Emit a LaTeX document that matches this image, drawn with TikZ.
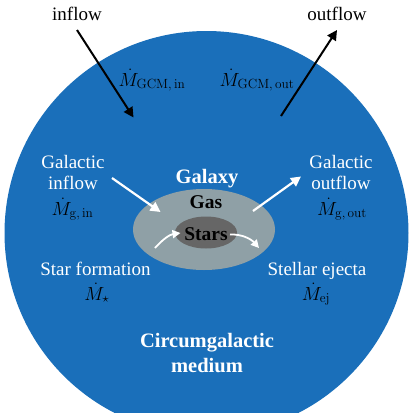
\RequirePackage{fix-cm}
\documentclass[tikz,border=0pt]{standalone}
\usepackage[no-math]{fontspec}
\setmainfont{Liberation Serif}
\usetikzlibrary{arrows.meta}
\usetikzlibrary{positioning}

\definecolor{cgmblue}{RGB}{26,111,186}
\definecolor{gasgrey}{RGB}{143,160,166}
\definecolor{stargrey}{RGB}{102,102,102}

\tikzset{
  word/.style={font=\fontsize{19}{21}\selectfont,align=center,inner sep=0pt,anchor=base},
  bigword/.style={font=\fontsize{20.5}{25}\selectfont\bfseries,align=center,inner sep=0pt,anchor=base},
  rate/.style={font=\fontsize{19}{21}\selectfont,inner sep=0pt,anchor=base},
  blackflow/.style={-{Triangle[length=10pt,width=10pt]},line width=2pt},
  whiteflow/.style={-{Triangle[length=10pt,width=10pt]},line width=2.2pt,white},
}

\begin{document}
\begin{tikzpicture}[x=1pt,y=-1pt]
  \useasboundingbox (0,0) rectangle (413,413);
  \clip (0,0) rectangle (413,413);
  % halo, gas and stars
  \fill[cgmblue] (206.5,233) circle[radius=202];
  \fill[gasgrey] (204,229.5) ellipse[x radius=71,y radius=40.5];
  \fill[stargrey] (206,232.5) ellipse[x radius=31,y radius=16];

  \node[bigword,white] (galaxy) at (207,183) {Galaxy};
  \node[word,font=\fontsize{19.5}{21}\selectfont\bfseries] (gas) at (206,208) {Gas};
  \node[word,font=\fontsize{19.5}{21}\selectfont\bfseries] (stars) at (206,240) {Stars};
  \node[bigword,white] (cgm) at (207,372) {Circumgalactic\\medium};

  % outer flows
  \node[word] (igmin) at (77,20) {inflow};
  \node[word] (igmout) at (337,20) {outflow};
  \node[rate] (gcmin) at (152,86) {\(\dot M_{\mathrm{GCM,\,in}}\)};
  \node[rate] (gcmout) at (257,86) {\(\dot M_{\mathrm{GCM,\,out}}\)};
  \coordinate (inA) at (77,30);
  \coordinate (inB) at (133.5,117.5);
  \coordinate (outA) at (281,116);
  \coordinate (outB) at (337,30);
  \draw[blackflow] (inA) -- (inB);
  \draw[blackflow] (outA) -- (outB);

  % galactic flows
  \node[word,white] (gin) at (73,189) {Galactic\\inflow};
  \node[rate] (mgin) at (72.5,215) {\(\dot M_{\mathrm{g,\,in}}\)};
  \node[word,white] (gout) at (341,189) {Galactic\\outflow};
  \node[rate] (mgout) at (342,215) {\(\dot M_{\mathrm{g,\,out}}\)};
  \coordinate (ginA) at (112,178);
  \coordinate (ginB) at (160.5,212);
  \coordinate (goutA) at (253,211);
  \coordinate (goutB) at (301,176.5);
  \draw[whiteflow] (ginA) -- (ginB);
  \draw[whiteflow] (goutA) -- (goutB);

  % star formation and ejecta
  \node[word,white] (sf) at (95.5,275) {Star formation};
  \node[rate] (mstar) at (97,300) {\(\dot M_\star\)};
  \node[word,white] (ej) at (317,275) {Stellar ejecta};
  \node[rate] (mej) at (316,300) {\(\dot M_{\mathrm{ej}}\)};
  \coordinate (sfA) at (155,248);
  \coordinate (sfB) at (180.5,233);
  \coordinate (ejA) at (230,234.5);
  \coordinate (ejB) at (259,248);
  \draw[whiteflow,line width=1.8pt,-{Triangle[length=8pt,width=8pt]}] (sfA) .. controls (163,239) and (170,234.5) .. (sfB);
  \draw[whiteflow,line width=1.8pt,-{Triangle[length=8pt,width=8pt]}] (ejA) .. controls (242,234) and (251,239) .. (ejB);
\end{tikzpicture}
\end{document}
